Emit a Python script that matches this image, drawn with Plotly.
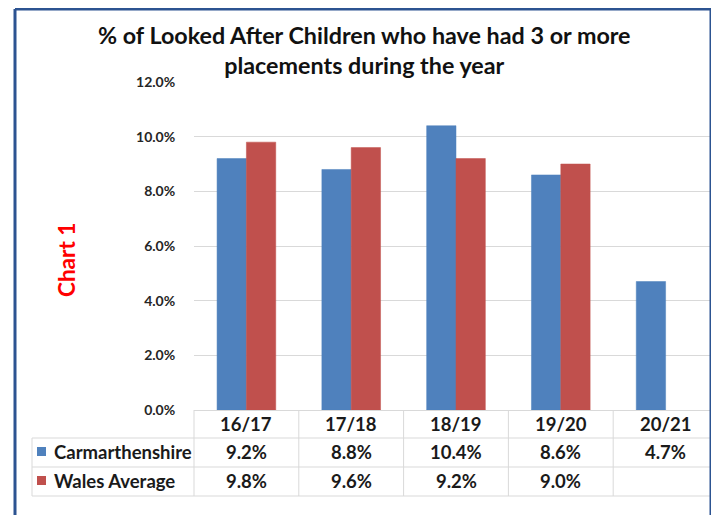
import plotly.graph_objects as go

categories = ["16/17", "17/18", "18/19", "19/20", "20/21"]
series_names = ["Carmarthenshire", "Wales Average"]
carmarthenshire = [9.2, 8.8, 10.4, 8.6, 4.7]
wales_average = [9.8, 9.6, 9.2, 9.0, None]
y_ticks = [0, 2, 4, 6, 8, 10, 12]
title_text = "% of Looked After Children who have had 3 or more<br>placements during the year"
side_label = "Chart 1"

colors = ["#4f81bd", "#c0504d"]
OX, OY = 8, 8  # page body margin offset
W, H = 719 - OX, 515 - OY
# plot area in screen pixels
PL, PR, PT, PB = 194, 718, 82, 410
L, R, T, B = PL - OX, OX + W - PR, PT - OY, OY + H - PB
PW, PH = PR - PL, PB - PT
FONT = "Lato"


def px2x(px):
    return (px - PL) / PW


def py2y(py):
    return (PB - py) / PH


fig = go.Figure()
for name, vals, col in zip(series_names, [carmarthenshire, wales_average], colors):
    fig.add_trace(go.Bar(
        x=categories, y=vals, name=name,
        marker=dict(color=col, line=dict(color=col, width=0.5)),
        hoverinfo="skip",
    ))

shapes = []
ann = []
grid = "#d9d9d9"

row_lines = [438, 467, 496]
for py in row_lines:
    shapes.append(dict(type="line", xref="paper", yref="paper",
                       x0=px2x(32), x1=px2x(718), y0=py2y(py), y1=py2y(py),
                       line=dict(color=grid, width=1)))
shapes.append(dict(type="line", xref="paper", yref="paper",
                   x0=px2x(32), x1=px2x(32), y0=py2y(438), y1=py2y(496),
                   line=dict(color=grid, width=1)))
n = len(categories)
for i in range(n + 1):
    xp = i / n
    shapes.append(dict(type="line", xref="paper", yref="paper",
                       x0=xp, x1=xp, y0=py2y(410), y1=py2y(496),
                       line=dict(color=grid, width=1)))

tf = dict(family=FONT, size=18.5, color="#1a1a1a", weight="bold")
for c in categories:
    ann.append(dict(x=c, xref="x", y=py2y(424), yref="paper", text=c,
                    showarrow=False, font=tf, xanchor="center", yanchor="middle"))
row_y = [452, 481]
for name, vals, col, ry in zip(series_names, [carmarthenshire, wales_average], colors, row_y):
    for c, v in zip(categories, vals):
        if v is None:
            continue
        ann.append(dict(x=c, xref="x", y=py2y(ry), yref="paper", text=f"{v:.1f}%",
                        showarrow=False, font=tf, xanchor="center", yanchor="middle"))
    ann.append(dict(x=px2x(52), xref="paper", y=py2y(ry), yref="paper", text=name,
                    showarrow=False, font=tf, xanchor="left", yanchor="middle"))
    shapes.append(dict(type="rect", xref="paper", yref="paper",
                       x0=px2x(37), x1=px2x(46), y0=py2y(ry - 5), y1=py2y(ry + 4),
                       fillcolor=col, line=dict(width=0)))

ann.append(dict(x=px2x(364), xref="paper", y=py2y(50), yref="paper", text=title_text,
                showarrow=False, align="center", xanchor="center", yanchor="middle",
                font=dict(family=FONT, size=23.3, color="#111111", weight="bold")))
ann.append(dict(x=px2x(66), xref="paper", y=py2y(260), yref="paper", text=side_label,
                showarrow=False, textangle=-90, xanchor="center", yanchor="middle",
                font=dict(family=FONT, size=22.5, color="#ff0000", weight="bold")))

shapes.append(dict(type="rect", xref="paper", yref="paper", layer="above",
                   x0=px2x(711), x1=px2x(730), y0=py2y(-5), y1=py2y(530),
                   fillcolor="white", line=dict(width=0)))
border = "#2c5391"
for (x0, y0, x1, y1) in [(15, 9, 15, 530), (15, 9, 711, 9), (711, 9, 711, 530)]:
    shapes.append(dict(type="line", xref="paper", yref="paper", layer="above",
                       x0=px2x(x0), x1=px2x(x1), y0=py2y(y0), y1=py2y(y1),
                       line=dict(color=border, width=3)))

fig.update_layout(
    width=W, height=H,
    margin=dict(l=L, r=R, t=T, b=B, autoexpand=False),
    paper_bgcolor="white", plot_bgcolor="white",
    showlegend=False,
    barmode="group", bargap=0.44, bargroupgap=0,
    shapes=shapes, annotations=ann,
    xaxis=dict(range=[-0.5, n - 0.5], showticklabels=False, ticks="",
               showline=True, linecolor=grid, linewidth=1, showgrid=False,
               fixedrange=True),
    yaxis=dict(range=[0, 12], tickvals=y_ticks,
               ticktext=[f"{v:.1f}%" for v in y_ticks],
               tickfont=dict(family=FONT, size=14, color="#262626", weight="bold"),
               ticks="outside", ticklen=15, tickcolor="rgba(0,0,0,0)",
               showgrid=True, gridcolor=grid, gridwidth=1,
               zeroline=False, showline=False, fixedrange=True),
)

fig.write_html("out.html")
